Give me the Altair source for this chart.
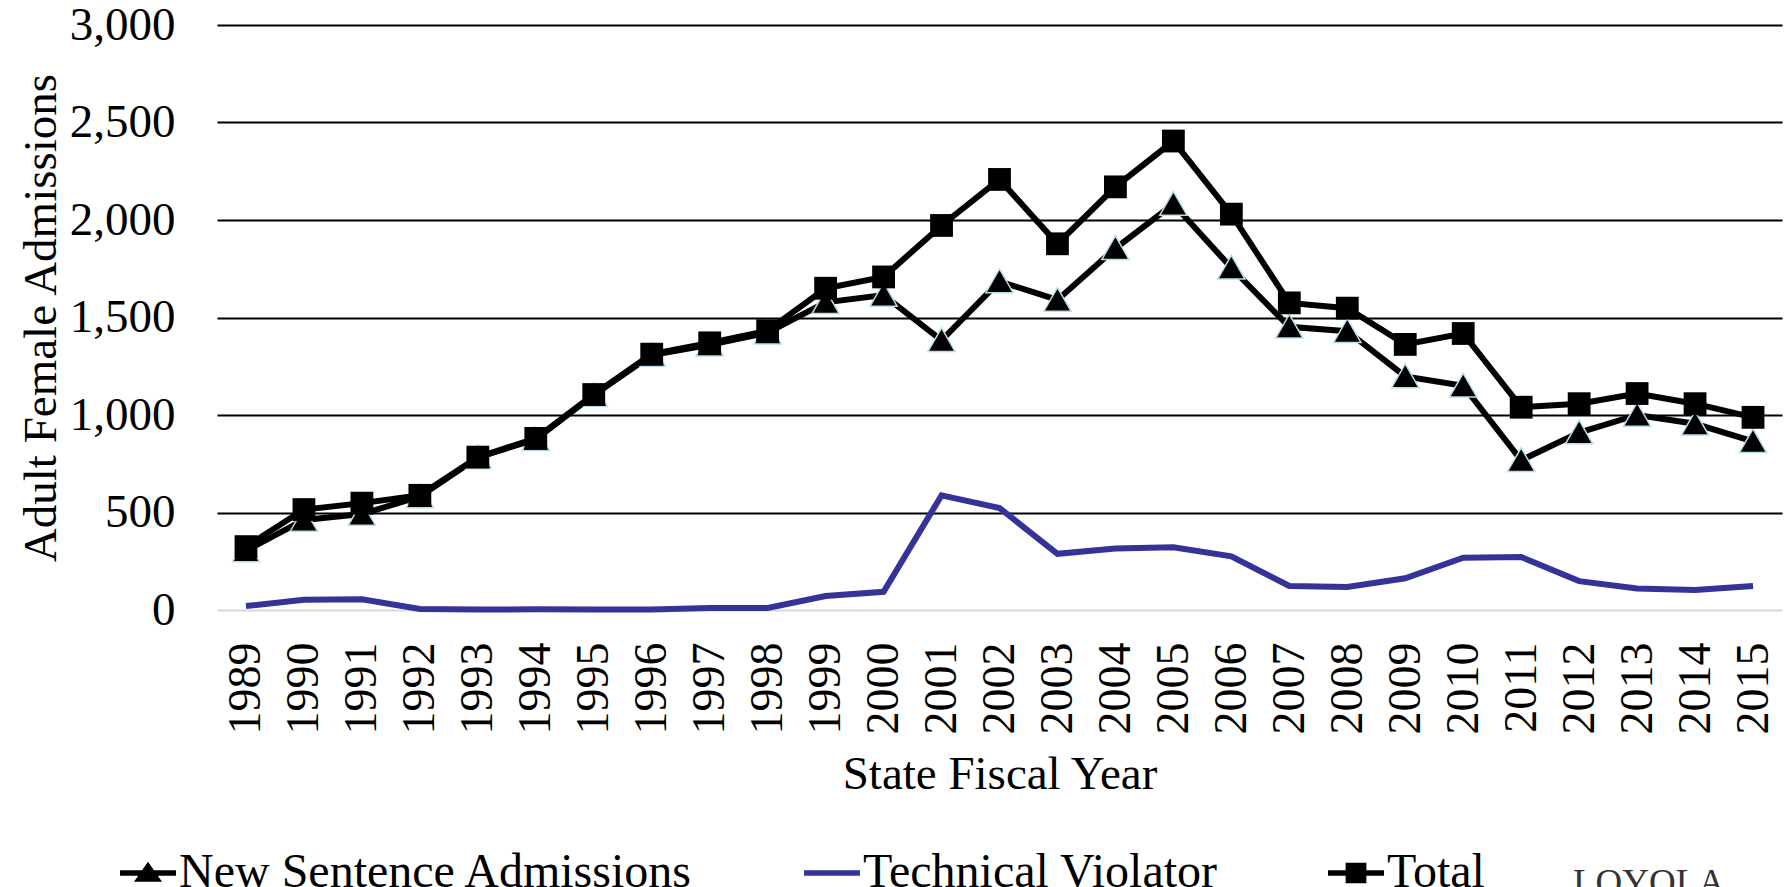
import altair as alt
import pandas as pd

years = ["1989", "1990", "1991", "1992", "1993", "1994", "1995", "1996", "1997",
         "1998", "1999", "2000", "2001", "2002", "2003", "2004", "2005", "2006",
         "2007", "2008", "2009", "2010", "2011", "2012", "2013", "2014", "2015"]
new_sentence = [305, 462, 492, 582, 782, 876, 1103, 1308, 1360, 1422, 1578, 1615, 1383,
                1685, 1590, 1855, 2082, 1755, 1452, 1430, 1198, 1150, 768, 910, 1000, 955, 865]
technical = [20, 53, 55, 5, 2, 4, 2, 2, 10, 10, 72, 93, 588, 523, 288, 315, 322, 275,
             123, 118, 163, 268, 272, 148, 110, 103, 123]
total = [325, 515, 548, 588, 784, 880, 1105, 1312, 1370, 1432, 1650, 1708, 1972, 2208,
         1878, 2170, 2405, 2030, 1575, 1548, 1362, 1418, 1040, 1058, 1110, 1058, 988]

NEW = "New Sentence Admissions"
TECH = "Technical Violator"
TOT = "Total"
series_names = [NEW, TECH, TOT]

rows = []
for name, vals in [(NEW, new_sentence), (TECH, technical), (TOT, total)]:
    for yr, v in zip(years, vals):
        rows.append({"year": yr, "value": v, "series": name})
df = pd.DataFrame(rows)

FONT = "Liberation Serif"
BLUE = "#333399"
LW = 6
TRI = "M0,-1.05L1.15,0.95H-1.15Z"
LEG_NEW = "M-1,-0.1H1V0.1H-1Z M0,-0.4L0.5,0.31H-0.5Z"
LEG_TECH = "M-1,-0.1H1V0.1H-1Z"
LEG_TOT = "M-1,-0.1H1V0.1H-1Z M-0.37,-0.37H0.37V0.37H-0.37Z"

x_enc = alt.X(
    "year:O",
    sort=years,
    scale=alt.Scale(type="point", padding=0.5),
    axis=alt.Axis(
        title="State Fiscal Year",
        labelAngle=-90,
        labelFont=FONT, labelFontSize=46, labelColor="black",
        labelPadding=32, ticks=False, domain=False, grid=False,
        titleFont=FONT, titleFontSize=47, titleFontWeight="normal",
        titleColor="black", titlePadding=17,
    ),
)
y_enc = alt.Y(
    "value:Q",
    scale=alt.Scale(domain=[0, 3000], nice=False),
    axis=alt.Axis(
        title="Adult Female Admissions",
        values=[0, 500, 1000, 1500, 2000, 2500, 3000],
        format=",.0f",
        labelFont=FONT, labelFontSize=47, labelColor="black",
        labelPadding=42, ticks=False, domain=False,
        grid=True,
        gridColor=alt.condition("datum.value === 0", alt.value("#d9d9d9"), alt.value("black")),
        gridWidth=2,
        titleFont=FONT, titleFontSize=47, titleFontWeight="normal",
        titleColor="black", titlePadding=4,
    ),
)

base = alt.Chart(df)

line_new = base.transform_filter(alt.datum.series == NEW).mark_line(
    color="black", strokeWidth=LW).encode(x=x_enc, y=y_enc)
pts_new = base.transform_filter(alt.datum.series == NEW).mark_point(
    shape=TRI, size=560, filled=True, fill="black", stroke="#b7dee8",
    strokeWidth=1.5, opacity=1).encode(x=x_enc, y=y_enc)
line_tech = base.transform_filter(alt.datum.series == TECH).mark_line(
    color=BLUE, strokeWidth=LW).encode(x=x_enc, y=y_enc)
line_tot = base.transform_filter(alt.datum.series == TOT).mark_line(
    color="black", strokeWidth=LW).encode(x=x_enc, y=y_enc)
pts_tot = base.transform_filter(alt.datum.series == TOT).mark_point(
    shape="square", size=520, filled=True, color="black", opacity=1).encode(x=x_enc, y=y_enc)

leg = alt.Legend(
    title=None, orient="none", legendX=-97, legendY=820, direction="horizontal",
    labelFont=FONT, labelFontSize=48, labelColor="black", labelLimit=0,
    symbolSize=3136, symbolStrokeWidth=0, labelOffset=3, columnPadding=110,
    padding=0,
)
legend_layer = base.transform_filter("false").mark_point(
    filled=True, opacity=1, strokeWidth=0).encode(
    color=alt.Color("series:N", scale=alt.Scale(domain=series_names, range=["black", BLUE, "black"]), legend=leg),
    shape=alt.Shape("series:N", scale=alt.Scale(domain=series_names, range=[LEG_NEW, LEG_TECH, LEG_TOT]), legend=leg),
)

logo = alt.Chart(pd.DataFrame({"label": ["LOYOLA"]})).mark_text(
    font=FONT, fontSize=37, color="#333333", align="left", baseline="top"
).encode(x=alt.value(1356), y=alt.value(841), text="label:N")

chart = alt.layer(line_new, pts_new, line_tech, line_tot, pts_tot, legend_layer, logo).properties(
    width=1565, height=585,
    autosize=alt.AutoSizeParams(type="none"),
    padding={"left": 209, "top": 17, "right": 1, "bottom": 277},
).configure_view(stroke=None)

chart.save("out.html", embed_options={"renderer": "svg", "actions": False})
